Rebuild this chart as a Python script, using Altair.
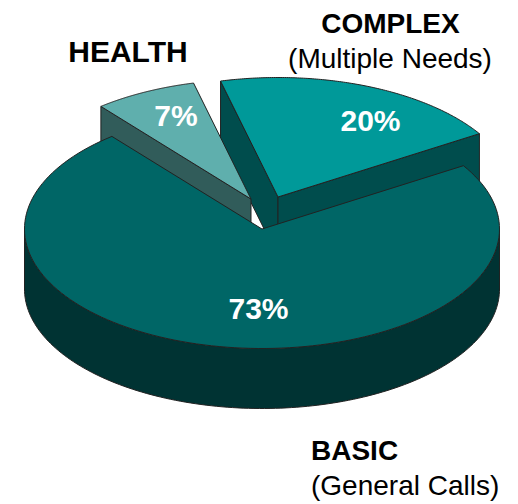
import numpy as np
import pandas as pd
import altair as alt

# values
categories = ["BASIC", "HEALTH", "COMPLEX"]
shares = [73, 7, 20]
notes = ["(General Calls)", "", "(Multiple Needs)"]

# drawing set-up
CX, CY, RX, RY, DEPTH = 262, 229, 237.5, 119.5, 60
START = 58.0
OFFSET = {"BASIC": (0, 0), "HEALTH": (-11, -30), "COMPLEX": (16, -32)}
TOP = {"BASIC": "#006666", "HEALTH": "#5FAFAD", "COMPLEX": "#009999"}
SIDE = {"BASIC": "#003333", "HEALTH": "#315C5A", "COMPLEX": "#004D4D"}
EDGE = "#222222"
FONT = "Liberation Sans"

W, H = 495, 494
X = alt.X("x:Q", axis=None, scale=alt.Scale(domain=[8, 8 + W], nice=False, zero=False))
Y = alt.Y("y:Q", axis=None, scale=alt.Scale(domain=[8, 8 + H], reverse=True, nice=False, zero=False))


def spans():
    out, a = {}, START
    for c, s in zip(categories, shares):
        out[c] = (a, a + s * 3.6)
        a += s * 3.6
    return out


SP = spans()


def pt(cat, t, drop=0):
    dx, dy = OFFSET[cat]
    r = np.radians(t)
    return CX + dx + RX * np.sin(r), CY + dy - RY * np.cos(r) + drop


def tip(cat, drop=0):
    dx, dy = OFFSET[cat]
    return CX + dx, CY + dy + drop


def poly(points, fill):
    points = list(points) + [points[0]]
    df = pd.DataFrame(points, columns=["x", "y"])
    df["seq"] = range(len(df))
    return alt.Chart(df).mark_line(
        fill=fill, stroke=EDGE, strokeWidth=1, strokeJoin="round"
    ).encode(x=X, y=Y, order="seq:Q")


def radial(cat, t):
    return poly([tip(cat), pt(cat, t), pt(cat, t, DEPTH), tip(cat, DEPTH)], SIDE[cat])


def top(cat):
    a, b = SP[cat]
    return poly([tip(cat)] + [pt(cat, t) for t in np.linspace(a, b, 140)], TOP[cat])


def rim(cat, a, b):
    ts = np.linspace(a, b, 140)
    return poly([pt(cat, t) for t in ts] + [pt(cat, t, DEPTH) for t in ts[::-1]], SIDE[cat])


def label(text, x, y, size, bold=False, color="black", align="center"):
    df = pd.DataFrame({"x": [x], "y": [y], "t": [text]})
    kw = {"fontWeight": "bold"} if bold else {}
    return alt.Chart(df).mark_text(
        font=FONT, fontSize=size, color=color, baseline="alphabetic", align=align, **kw
    ).encode(x=X, y=Y, text="t:N")


layers = [
    radial("COMPLEX", SP["COMPLEX"][0]),
    radial("COMPLEX", SP["COMPLEX"][1]),
    top("COMPLEX"),
    radial("HEALTH", SP["HEALTH"][0]),
    top("HEALTH"),
    rim("BASIC", 90, 270),
    top("BASIC"),
    label(f"{shares[0]}%", 258.5, 319, 30, True, "white"),
    label(f"{shares[1]}%", 176, 126, 30, True, "white"),
    label(f"{shares[2]}%", 370.5, 131, 30, True, "white"),
    label(categories[0], 311, 460, 28, True, align="left"),
    label(notes[0], 311, 495, 28, align="left"),
    label(categories[1], 128, 62, 30, True),
    label(categories[2], 390.5, 33, 28, True),
    label(notes[2], 390, 68, 28),
]

chart = alt.layer(*layers).properties(
    width=W, height=H, padding=0, background="white",
    autosize=alt.AutoSizeParams(type="none"),
).configure_view(stroke=None)

chart.save("out.html", embed_options={"renderer": "svg", "actions": False})
